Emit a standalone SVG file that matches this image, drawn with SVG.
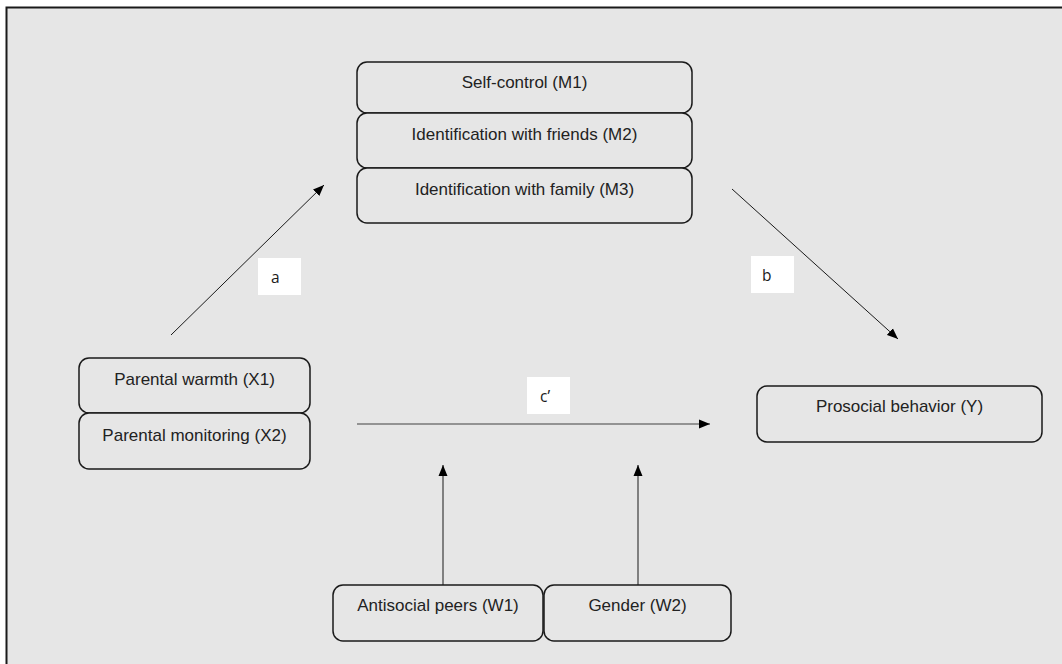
<svg xmlns="http://www.w3.org/2000/svg" width="1062" height="664" viewBox="0 0 1062 664">
  <style>
    .box { fill: #e6e6e6; stroke: #1a1a1a; stroke-width: 1.5; }
    .t { font-family: "Liberation Sans", Arial, sans-serif; font-size: 17px; fill: #222222; text-anchor: middle; }
    .lbl { fill: #ffffff; stroke: none; }
    .lt { font-family: "Open Sans", "Liberation Sans", sans-serif; font-size: 15.5px; fill: #1a1a1a; }
    .conn { stroke: #1a1a1a; stroke-width: 1; fill: none; marker-end: url(#arr); }
    .connc { stroke: #777777; stroke-width: 1.5; fill: none; marker-end: url(#arr); }
  </style>
  <defs>
    <marker id="arr" markerUnits="userSpaceOnUse" markerWidth="12" markerHeight="10" refX="11" refY="5" orient="auto">
      <path d="M0,0.5 L11,5 L0,9.5 Z" fill="#000000"/>
    </marker>
  </defs>
  <rect x="0" y="0" width="1062" height="664" fill="#ffffff"/>
  <rect x="6.5" y="7.5" width="1100" height="700" fill="#e6e6e6" stroke="#1a1a1a" stroke-width="2"/>

  <g id="connectors">
    <line class="conn" x1="171" y1="335" x2="324" y2="185"/>
    <line class="conn" x1="732" y1="189" x2="898" y2="339"/>
    <line class="connc" x1="357" y1="424" x2="710" y2="424"/>
    <line class="conn" x1="443" y1="585" x2="443" y2="465"/>
    <line class="conn" x1="638" y1="585" x2="638" y2="465"/>
  </g>

  <g id="label-a">
    <rect class="lbl" x="258" y="258" width="43" height="37"/>
    <text class="lt" x="271" y="283">a</text>
  </g>
  <g id="label-b">
    <rect class="lbl" x="751" y="256" width="43" height="37"/>
    <text class="lt" x="762" y="281">b</text>
  </g>
  <g id="label-c">
    <rect class="lbl" x="527" y="377" width="43" height="37"/>
    <text class="lt" x="540" y="402">c’</text>
  </g>

  <g id="m1">
    <rect class="box" x="357" y="62" width="335" height="51" rx="10"/>
    <text class="t" x="524.5" y="88">Self-control (M1)</text>
  </g>
  <g id="m2">
    <rect class="box" x="357" y="113" width="335" height="55" rx="10"/>
    <text class="t" x="524.5" y="140">Identification with friends (M2)</text>
  </g>
  <g id="m3">
    <rect class="box" x="357" y="168" width="335" height="55" rx="10"/>
    <text class="t" x="524.5" y="195">Identification with family (M3)</text>
  </g>

  <g id="x1">
    <rect class="box" x="79" y="358" width="231" height="55" rx="10"/>
    <text class="t" x="194.5" y="385">Parental warmth (X1)</text>
  </g>
  <g id="x2">
    <rect class="box" x="79" y="413" width="231" height="56" rx="10"/>
    <text class="t" x="194.5" y="441">Parental monitoring (X2)</text>
  </g>

  <g id="y">
    <rect class="box" x="757" y="386" width="285" height="56" rx="10"/>
    <text class="t" x="899.5" y="412">Prosocial behavior (Y)</text>
  </g>

  <g id="w1">
    <rect class="box" x="333" y="585" width="210" height="56" rx="10"/>
    <text class="t" x="438" y="611">Antisocial peers (W1)</text>
  </g>
  <g id="w2">
    <rect class="box" x="544" y="585" width="187" height="56" rx="10"/>
    <text class="t" x="637.5" y="611">Gender (W2)</text>
  </g>
</svg>
